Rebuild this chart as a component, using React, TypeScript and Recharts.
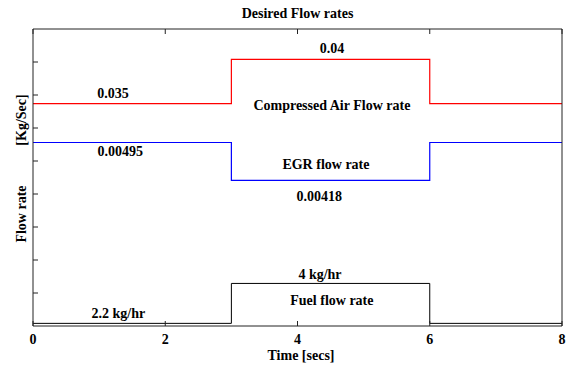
import React from 'react';
import { LineChart, Line, XAxis, YAxis, ReferenceDot } from 'recharts';

// step change times (secs) and the plotted levels (display units)
const times = [0, 3, 6, 8];
const airLevel = [6.74, 8.08, 6.74, 6.74];
const egrLevel = [5.56, 4.41, 5.56, 5.56];
const fuelLevel = [0.08, 1.29, 0.08, 0.08];

const xTicks = [0, 2, 4, 6, 8];
const yTicks = [1, 2, 3, 4, 5, 6, 7, 8];

const data = times.map((t, i) => ({
  t,
  air: airLevel[i],
  egr: egrLevel[i],
  fuel: fuelLevel[i],
}));

const FONT = '"Times New Roman", "Liberation Serif", Tinos, "DejaVu Serif", serif';
const AXIS = '#222';
const FS = 14;

const labelStyle = {
  position: 'center' as const,
  fill: '#000',
  fontSize: FS,
  fontWeight: 700,
  fontFamily: FONT,
};

const BottomTick = (p: any) => (
  <g>
    <line x1={p.x} x2={p.x} y1={p.y} y2={p.y - 5} stroke={AXIS} />
    <text x={p.x} y={p.y + 18} textAnchor="middle" fontSize={FS} fontWeight={700} fontFamily={FONT} fill="#000">
      {p.payload.value}
    </text>
  </g>
);
const TopTick = (p: any) => <line x1={p.x} x2={p.x} y1={p.y} y2={p.y + 5} stroke={AXIS} />;
const LeftTick = (p: any) => <line x1={p.x} x2={p.x + 5} y1={p.y} y2={p.y} stroke={AXIS} />;
const RightTick = (p: any) => <line x1={p.x - 5} x2={p.x} y1={p.y} y2={p.y} stroke={AXIS} />;

const note = (value: string, t: number, v: number) => (
  <ReferenceDot
    key={value}
    x={t}
    y={v}
    r={0}
    fill="none"
    stroke="none"
    label={{ ...labelStyle, value }}
  />
);

const textBox = {
  position: 'absolute' as const,
  fontSize: FS,
  fontWeight: 700,
  whiteSpace: 'nowrap' as const,
  lineHeight: '15px',
};

export default function App() {
  return (
    <div
      style={{
        position: 'absolute',
        left: 0,
        top: 0,
        width: 567,
        height: 371,
        background: '#fff',
        fontFamily: FONT,
      }}
    >
      <div style={{ ...textBox, left: 33, width: 529, top: 6, textAlign: 'center' }}>Desired Flow rates</div>
      <div style={{ ...textBox, left: 33, width: 536, top: 348, textAlign: 'center' }}>Time [secs]</div>
      <div
        style={{ ...textBox, left: 21, top: 120, transform: 'translate(-50%, -50%) rotate(-90deg)' }}
      >
        [Kg/Sec]
      </div>
      <div
        style={{ ...textBox, left: 21, top: 214, transform: 'translate(-50%, -50%) rotate(-90deg)' }}
      >
        Flow rate
      </div>
      <LineChart width={567} height={371} data={data} margin={{ top: 28, right: 4, left: 32, bottom: 0 }}>
        <XAxis
          dataKey="t"
          type="number"
          domain={[0, 8]}
          ticks={xTicks}
          interval={0}
          height={45}
          tickSize={0}
          tickMargin={0}
          tickLine={false}
          tick={BottomTick}
          axisLine={{ stroke: AXIS }}
        />
        <XAxis
          xAxisId="top"
          orientation="top"
          dataKey="t"
          type="number"
          domain={[0, 8]}
          ticks={xTicks}
          interval={0}
          height={1}
          tickSize={0}
          tickMargin={0}
          tickLine={false}
          tick={TopTick}
          axisLine={{ stroke: AXIS }}
        />
        <YAxis
          type="number"
          domain={[0, 9]}
          ticks={yTicks}
          interval={0}
          width={1}
          tickSize={0}
          tickMargin={0}
          tickLine={false}
          tick={LeftTick}
          axisLine={{ stroke: AXIS }}
        />
        <YAxis
          yAxisId="r"
          orientation="right"
          type="number"
          domain={[0, 9]}
          ticks={yTicks}
          interval={0}
          width={1}
          tickSize={0}
          tickMargin={0}
          tickLine={false}
          tick={RightTick}
          axisLine={{ stroke: AXIS }}
        />
        <Line type="stepAfter" dataKey="air" stroke="#ff0000" strokeWidth={1.2} dot={false} isAnimationActive={false} />
        <Line type="stepAfter" dataKey="egr" stroke="#0000ff" strokeWidth={1.2} dot={false} isAnimationActive={false} />
        <Line type="stepAfter" dataKey="fuel" stroke="#000000" strokeWidth={1} dot={false} isAnimationActive={false} />
        {note('0.035', 1.21, 7.06)}
        {note('0.00495', 1.32, 5.3)}
        {note('0.04', 4.52, 8.42)}
        {note('Compressed Air Flow rate', 4.52, 6.7)}
        {note('EGR flow rate', 4.43, 4.91)}
        {note('0.00418', 4.33, 3.94)}
        {note('4 kg/hr', 4.34, 1.57)}
        {note('Fuel flow rate', 4.52, 0.79)}
        {note('2.2 kg/hr', 1.29, 0.39)}
      </LineChart>
    </div>
  );
}
